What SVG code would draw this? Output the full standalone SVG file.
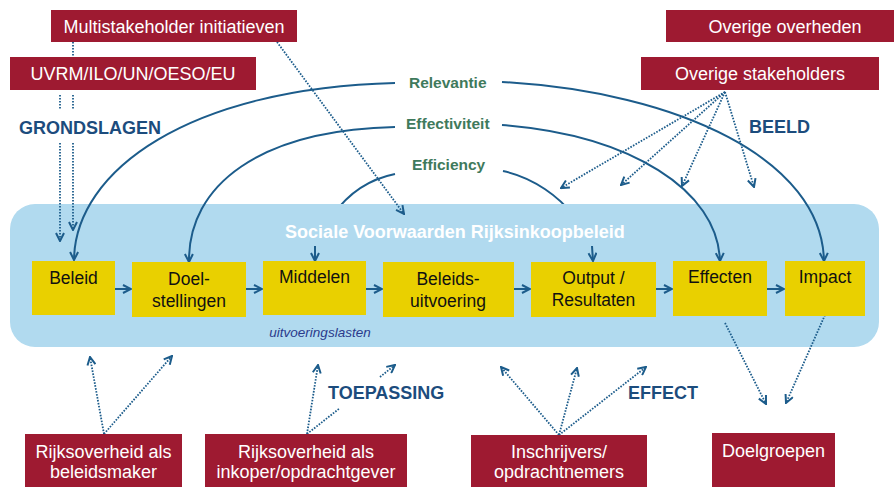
<svg xmlns="http://www.w3.org/2000/svg" width="894" height="487" viewBox="0 0 894 487">
<style>
.red{fill:#9E1A31}
.ylw{fill:#E9D000}
.rt{font-family:"Liberation Sans",Arial,sans-serif;font-size:18px;fill:#fff;text-anchor:middle}
.yt{font-family:"Liberation Sans",Arial,sans-serif;font-size:17.5px;fill:#111;text-anchor:middle}
.gl{font-family:"Liberation Sans",Arial,sans-serif;font-size:15.5px;font-weight:bold;fill:#3F7A5C}
.hd{font-family:"Liberation Sans",Arial,sans-serif;font-size:18px;font-weight:bold;fill:#1C4C7D}
.sol{fill:none;stroke:#1C5C8B;stroke-width:2}
.dot{fill:none;stroke:#1C5C8B;stroke-width:1.8;stroke-dasharray:1.6 1.4}
</style>
<defs>
<marker id="ah" viewBox="0 0 10 10" refX="9" refY="5" markerWidth="10" markerHeight="10" markerUnits="userSpaceOnUse" orient="auto">
<path d="M1,1 L9,5 L1,9" fill="none" stroke="#1C5C8B" stroke-width="2"/>
</marker>
</defs>
<rect width="894" height="487" fill="#fff"/>

<g id="hidden-connectors">
<path class="sol" d="M395,174 C365,180 345,198 333,215"/>
<path class="sol" d="M503,171 C535,178 560,198 573,215"/>
</g>

<g id="band">
<rect x="10" y="204" width="869" height="143" rx="25" fill="#B1DAEF"/>
<text x="455" y="238" font-family="Liberation Sans,Arial,sans-serif" font-size="18" font-weight="bold" fill="#fff" text-anchor="middle">Sociale Voorwaarden Rijksinkoopbeleid</text>
<text x="320" y="337" font-family="Liberation Sans,Arial,sans-serif" font-size="13.5" font-style="italic" fill="#2A3B8C" text-anchor="middle">uitvoeringslasten</text>
</g>

<g id="connectors">
<path class="sol" d="M395,83 C190,88 75,170 74,260" marker-end="url(#ah)"/>
<path class="sol" d="M395,127 C260,130 188,185 189,262" marker-end="url(#ah)"/>
<path class="sol" d="M315,246 L315,261" marker-end="url(#ah)"/>
<path class="sol" d="M592,246 L593,261" marker-end="url(#ah)"/>
<path class="sol" d="M502,82 C680,92 822,160 824,261" marker-end="url(#ah)"/>
<path class="sol" d="M502,125 C630,135 718,190 720,261" marker-end="url(#ah)"/>

<path class="sol" d="M115,289 L131,289" marker-end="url(#ah)"/>
<path class="sol" d="M246,289 L262,289" marker-end="url(#ah)"/>
<path class="sol" d="M366,289 L382,289" marker-end="url(#ah)"/>
<path class="sol" d="M514,289 L530,289" marker-end="url(#ah)"/>
<path class="sol" d="M656,289 L672,289" marker-end="url(#ah)"/>
<path class="sol" d="M767,289 L784,289" marker-end="url(#ah)"/>

<path class="dot" d="M73,42 L73,57"/>
<path class="dot" d="M73,95 L73,110"/>
<path class="dot" d="M73,143 L73,230" marker-end="url(#ah)"/>
<path class="dot" d="M60,95 L60,110"/>
<path class="dot" d="M60,143 L60,241" marker-end="url(#ah)"/>
<path class="dot" d="M277,42 L404,214" marker-end="url(#ah)"/>

<path class="dot" d="M725,92 L561,188" marker-end="url(#ah)"/>
<path class="dot" d="M725,92 L621,185" marker-end="url(#ah)"/>
<path class="dot" d="M725,92 L682,186" marker-end="url(#ah)"/>
<path class="dot" d="M725,92 L754,187" marker-end="url(#ah)"/>

<path class="dot" d="M104,434 L90,357" marker-end="url(#ah)"/>
<path class="dot" d="M104,434 L172,356" marker-end="url(#ah)"/>
<path class="dot" d="M307,434 L318,365" marker-end="url(#ah)"/>
<path class="dot" d="M307,434 L340,408"/>
<path class="dot" d="M380,377 L395,365" marker-end="url(#ah)"/>

<path class="dot" d="M559,435 L501,367" marker-end="url(#ah)"/>
<path class="dot" d="M559,435 L577,368" marker-end="url(#ah)"/>
<path class="dot" d="M559,435 L646,367" marker-end="url(#ah)"/>

<path class="dot" d="M725,323 L766,404" marker-end="url(#ah)"/>
<path class="dot" d="M825,315 L786,403" marker-end="url(#ah)"/>
</g>

<g id="labels">
<text class="gl" x="409" y="88">Relevantie</text>
<text class="gl" x="406" y="129">Effectiviteit</text>
<text class="gl" x="412" y="170">Efficiency</text>
<text class="hd" x="19" y="134">GRONDSLAGEN</text>
<text class="hd" x="749" y="133">BEELD</text>
<text class="hd" x="328" y="399">TOEPASSING</text>
<text class="hd" x="628" y="399">EFFECT</text>
</g>

<g id="multistakeholder"><rect class="red" x="51" y="10" width="246" height="32"/><text class="rt" x="174" y="33">Multistakeholder initiatieven</text></g>
<g id="uvrm"><rect class="red" x="10" y="57" width="246" height="33"/><text class="rt" x="133" y="80">UVRM/ILO/UN/OESO/EU</text></g>
<g id="overige-overheden"><rect class="red" x="666" y="10" width="228" height="32"/><text class="rt" x="785" y="33">Overige overheden</text></g>
<g id="overige-stakeholders"><rect class="red" x="641" y="57" width="238" height="33"/><text class="rt" x="760" y="80">Overige stakeholders</text></g>

<g id="beleid"><rect class="ylw" x="32" y="261" width="83" height="54"/><text class="yt" x="73.5" y="284">Beleid</text></g>
<g id="doelstellingen"><rect class="ylw" x="132" y="262" width="114" height="55"/><text class="yt" x="189" y="285">Doel-</text><text class="yt" x="189" y="307">stellingen</text></g>
<g id="middelen"><rect class="ylw" x="263" y="261" width="103" height="54"/><text class="yt" x="314.5" y="283">Middelen</text></g>
<g id="beleidsuitvoering"><rect class="ylw" x="383" y="262" width="131" height="55"/><text class="yt" x="448" y="285">Beleids-</text><text class="yt" x="448" y="307">uitvoering</text></g>
<g id="output"><rect class="ylw" x="531" y="262" width="125" height="55"/><text class="yt" x="593.5" y="284">Output /</text><text class="yt" x="593.5" y="306">Resultaten</text></g>
<g id="effecten"><rect class="ylw" x="673" y="261" width="94" height="55"/><text class="yt" x="720" y="283">Effecten</text></g>
<g id="impact"><rect class="ylw" x="785" y="261" width="80" height="55"/><text class="yt" x="825" y="283">Impact</text></g>

<g id="beleidsmaker"><rect class="red" x="25" y="434" width="157" height="53"/><text class="rt" x="103.5" y="458">Rijksoverheid als</text><text class="rt" x="103.5" y="478">beleidsmaker</text></g>
<g id="inkoper"><rect class="red" x="205" y="434" width="202" height="53"/><text class="rt" x="306" y="458">Rijksoverheid als</text><text class="rt" x="306" y="478">inkoper/opdrachtgever</text></g>
<g id="inschrijvers"><rect class="red" x="471" y="435" width="176" height="52"/><text class="rt" x="559" y="458">Inschrijvers/</text><text class="rt" x="559" y="478">opdrachtnemers</text></g>
<g id="doelgroepen"><rect class="red" x="712" y="433" width="123" height="54"/><text class="rt" x="773.5" y="457">Doelgroepen</text></g>
</svg>
